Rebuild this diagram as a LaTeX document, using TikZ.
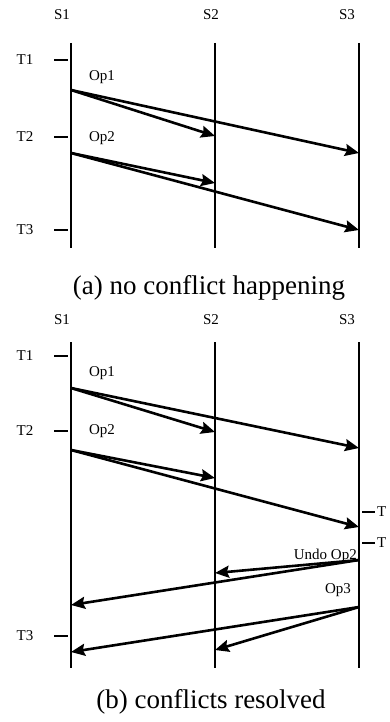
\documentclass[tikz,border=0pt]{standalone}
\usepackage{fontspec}
\setmainfont{Liberation Serif}
\usetikzlibrary{arrows.meta}
\tikzset{
  sd/.style={x=1pt, y=-1pt, every node/.style={font=\fontsize{15}{17}\selectfont, inner sep=0pt}},
  lane/.style={line width=1.9pt},
  msg/.style={-{Stealth[length=14pt,width=12pt,inset=2pt]}, line width=2.6pt},
  tick/.style={line width=1.9pt},
  tcap/.style={font=\fontsize{27}{30}\selectfont}
}

\begin{document}
\begin{tikzpicture}[sd]
\useasboundingbox (0,0) rectangle (389,722);
% (a) no conflict
\foreach \n/\x/\lx in {1/71/62,2/215/211,3/359/347}{
  \node (sa\n) at (\lx,15) {S\n};
  \draw[lane] (\x,43) -- (\x,248);}
\foreach \n/\y in {1/60,2/137,3/230}{
  \node (ta\n) at (25,\y) {T\n};
  \draw[tick] (54,\y) -- (68,\y);}
\node (opa1) at (102,77) {Op1};
\node (opa2) at (102,138) {Op2};
\coordinate (a1) at (71,90); \coordinate (a12) at (215,136); \coordinate (a13) at (359,153);
\coordinate (a2) at (71,153); \coordinate (a22) at (215,183); \coordinate (a23) at (359,230);
\draw[msg] (a1) -- (a12); \draw[msg] (a1) -- (a13);
\draw[msg] (a2) -- (a22); \draw[msg] (a2) -- (a23);
\node[tcap] (capa) at (209,288) {(a) no conflict happening};
% (b) conflicts resolved
\foreach \n/\x/\lx in {1/71/62,2/215/211,3/359/347}{
  \node (sb\n) at (\lx,320) {S\n};
  \draw[lane] (\x,342) -- (\x,668);}
\foreach \n/\y in {1/356,2/431,3/636}{
  \node (tb\n) at (25,\y) {T\n};
  \draw[tick] (54,\y) -- (68,\y);}
\foreach \n/\y in {1/512,2/543}{
  \draw[tick] (362,\y) -- (375,\y);
  \node[anchor=west] (tr\n) at (377,\y) {T};}
\node (opb1) at (102,373) {Op1};
\node (opb2) at (102,431) {Op2};
\node[anchor=east] (undo) at (357,556) {Undo Op2};
\node (opb3) at (338,590) {Op3};
\coordinate (b1) at (71,388); \coordinate (b12) at (215,432); \coordinate (b13) at (359,448);
\coordinate (b2) at (71,450); \coordinate (b22) at (215,478); \coordinate (b23) at (359,527);
\coordinate (u) at (359,560); \coordinate (u2) at (215,573); \coordinate (u1) at (71,605);
\coordinate (o) at (359,607); \coordinate (o2) at (215,650); \coordinate (o1) at (71,652);
\draw[msg] (b1) -- (b12); \draw[msg] (b1) -- (b13);
\draw[msg] (b2) -- (b22); \draw[msg] (b2) -- (b23);
\draw[msg] (u) -- (u2); \draw[msg] (u) -- (u1);
\draw[msg] (o) -- (o2); \draw[msg] (o) -- (o1);
\node[tcap] (capb) at (211,702) {(b) conflicts resolved};
\end{tikzpicture}
\end{document}
